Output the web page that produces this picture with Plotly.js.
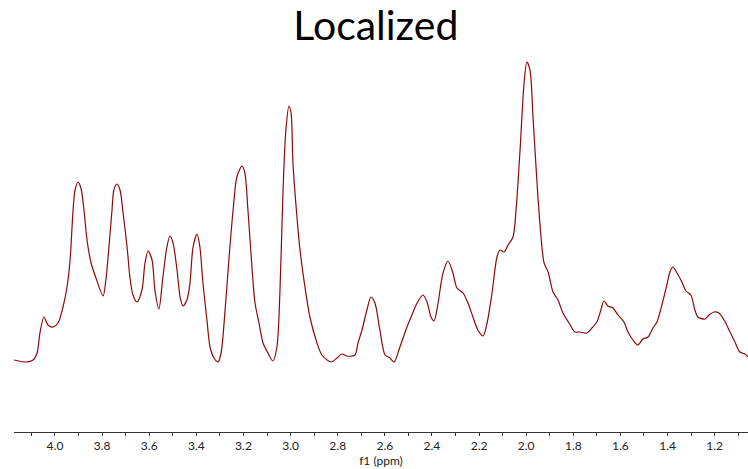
<!DOCTYPE html>
<html>
<head>
<meta charset="utf-8">
<script src="https://cdn.plot.ly/plotly-3.0.1.min.js"></script>
<style>html,body{margin:0;padding:0;background:#fff;}#chart{width:748px;height:469px;}</style>
</head>
<body>
<div id="chart"></div>
<script>
// Chemical shift (ppm)
var ppm = [4.174,4.127,4.093,4.076,4.064,4.047,4.030,4.008,3.987,3.966,3.949,3.936,3.924,3.915,3.902,3.890,3.877,3.864,3.847,3.826,
3.796,3.784,3.771,3.758,3.750,3.737,3.724,3.711,3.694,3.682,3.669,3.652,3.631,3.618,3.605,3.588,3.576,3.559,3.542,3.525,
3.512,3.499,3.482,3.469,3.457,3.440,3.427,3.414,3.397,3.385,3.372,3.355,3.342,3.325,3.308,3.295,3.278,3.261,3.244,3.228,
3.206,3.194,3.181,3.164,3.151,3.134,3.117,3.096,3.075,3.058,3.045,3.032,3.020,3.007,2.998,2.990,2.973,2.960,2.939,2.918,
2.888,2.867,2.829,2.803,2.782,2.761,2.727,2.714,2.697,2.676,2.659,2.642,2.621,2.599,2.578,2.561,2.536,2.506,2.485,2.463,
2.438,2.421,2.404,2.391,2.374,2.353,2.332,2.311,2.294,2.268,2.247,2.226,2.205,2.183,2.166,2.145,2.124,2.111,2.094,2.077,
2.056,2.043,2.026,2.009,1.997,1.984,1.971,1.954,1.937,1.924,1.907,1.886,1.865,1.844,1.818,1.793,1.772,1.742,1.721,1.700,
1.683,1.670,1.653,1.632,1.610,1.585,1.568,1.547,1.526,1.505,1.483,1.462,1.445,1.424,1.403,1.390,1.377,1.360,1.339,1.322,
1.301,1.284,1.271,1.241,1.224,1.203,1.182,1.160,1.139,1.114,1.093,1.071,1.059];
// Intensity (arbitrary units)
var intensity = [0,-2,0,7,27,43,35,33,37,53,73,100,147,170,178,172,150,120,97,82,
64,80,113,150,170,176,170,147,113,83,65,58,70,97,109,100,70,51,83,113,
124,117,90,63,54,60,77,113,126,113,77,40,13,2,-2,7,50,103,150,183,
194,187,150,93,57,37,17,7,-1,13,70,170,230,254,247,197,143,110,73,43,
17,5,-2,2,6,4,5,17,30,50,63,57,30,5,2,-2,13,33,45,57,
65,58,43,39,57,87,99,87,72,67,57,43,30,24,37,67,103,110,108,115,
123,150,210,277,298,290,243,177,123,97,88,68,60,47,37,28,28,27,32,38,
50,59,54,52,45,38,28,20,15,21,23,32,38,55,75,88,93,87,78,69,
65,50,43,41,45,48,47,40,30,18,8,6,3];

var titleText = "Localized";
var xTitle = "f1 (ppm)";

var trace = {
  x: ppm, y: intensity, type: 'scatter', mode: 'lines',
  line: {color: '#8b0a0a', width: 1.2, shape: 'spline', smoothing: 0.8},
  hoverinfo: 'x+y'
};

var layout = {
  width: 748, height: 469,
  margin: {l: 14, r: 0, t: 55, b: 37, pad: 0},
  paper_bgcolor: '#ffffff', plot_bgcolor: '#ffffff',
  showlegend: false,
  font: {family: 'Lato, "Open Sans", sans-serif', color: '#111'},
  title: {text: titleText, x: 0.493, xanchor: 'center', xref: 'paper', y: 0.975, yanchor: 'top', yref: 'container',
          font: {family: 'Lato, "Open Sans", sans-serif', size: 41, color: '#000'}},
  xaxis: {
    range: [4.174, 1.0585], autorange: false,
    showgrid: false, zeroline: false,
    showline: true, linecolor: '#333', linewidth: 1,
    ticks: 'outside', ticklen: 3, tickcolor: '#333', tickwidth: 1,
    tick0: 0, dtick: 0.2, tickformat: '.1f',
    minor: {ticks: 'outside', dtick: 0.1, tick0: 0, ticklen: 3, tickcolor: '#333', showgrid: false},
    tickfont: {size: 12, color: '#222'},
    title: {text: xTitle, standoff: 1, font: {size: 12, color: '#222'}}
  },
  yaxis: {visible: false, range: [-72, 305], autorange: false, showgrid: false, zeroline: false}
};

Plotly.newPlot('chart', [trace], layout, {displayModeBar: false, staticPlot: true});
</script>
</body>
</html>
